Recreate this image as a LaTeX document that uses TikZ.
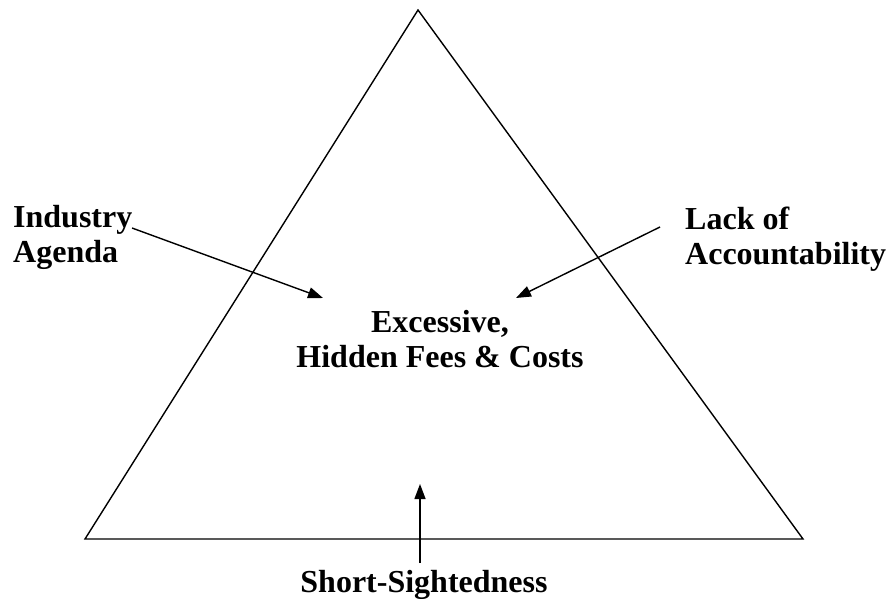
\documentclass[tikz,border=0pt]{standalone}
\usepackage{fontspec}
\setmainfont{Liberation Serif}
\usetikzlibrary{
	arrows.meta,
	positioning
}
\tikzset{
	>={Triangle[length=15pt, width=11pt]},
	edgeline/.style={line width=1.4pt},
	pointer/.style={->, line width=1.4pt},
	labelnode/.style={font=\fontsize{32}{35}\selectfont\bfseries, inner sep=0pt}
}

\begin{document}
\begin{tikzpicture}[x=1pt, y=-1pt]
	\useasboundingbox (0,0) rectangle (886,599);

	% triangle
	\coordinate (apex) at (418,10);
	\coordinate (left) at (85,539);
	\coordinate (right) at (803,539);
	\draw[edgeline] (apex) -- (left) -- (right) -- cycle;

	% labels (base = last line)
	\node[labelnode, anchor=base west, align=left] (industry) at (13,262) {Industry\\Agenda};
	\node[labelnode, anchor=base west, align=left] (lack) at (685,264) {Lack of\\Accountability};
	\node[labelnode, anchor=base, align=center] (fees) at (440,367) {Excessive,\\Hidden Fees \& Costs};
	\node[labelnode, anchor=base] (short) at (424,592) {Short-Sightedness};

	% arrow ends
	\coordinate (industry-out) at (132,228);
	\coordinate (lack-out) at (660,227);
	\coordinate (short-out) at (420,563);
	\coordinate (fees-left) at (323,298);
	\coordinate (fees-right) at (516,298);
	\coordinate (fees-below) at (420,484);

	\draw[pointer] (industry-out) -- (fees-left);
	\draw[pointer] (lack-out) -- (fees-right);
	\draw[pointer] (short-out) -- (fees-below);
\end{tikzpicture}
\end{document}
